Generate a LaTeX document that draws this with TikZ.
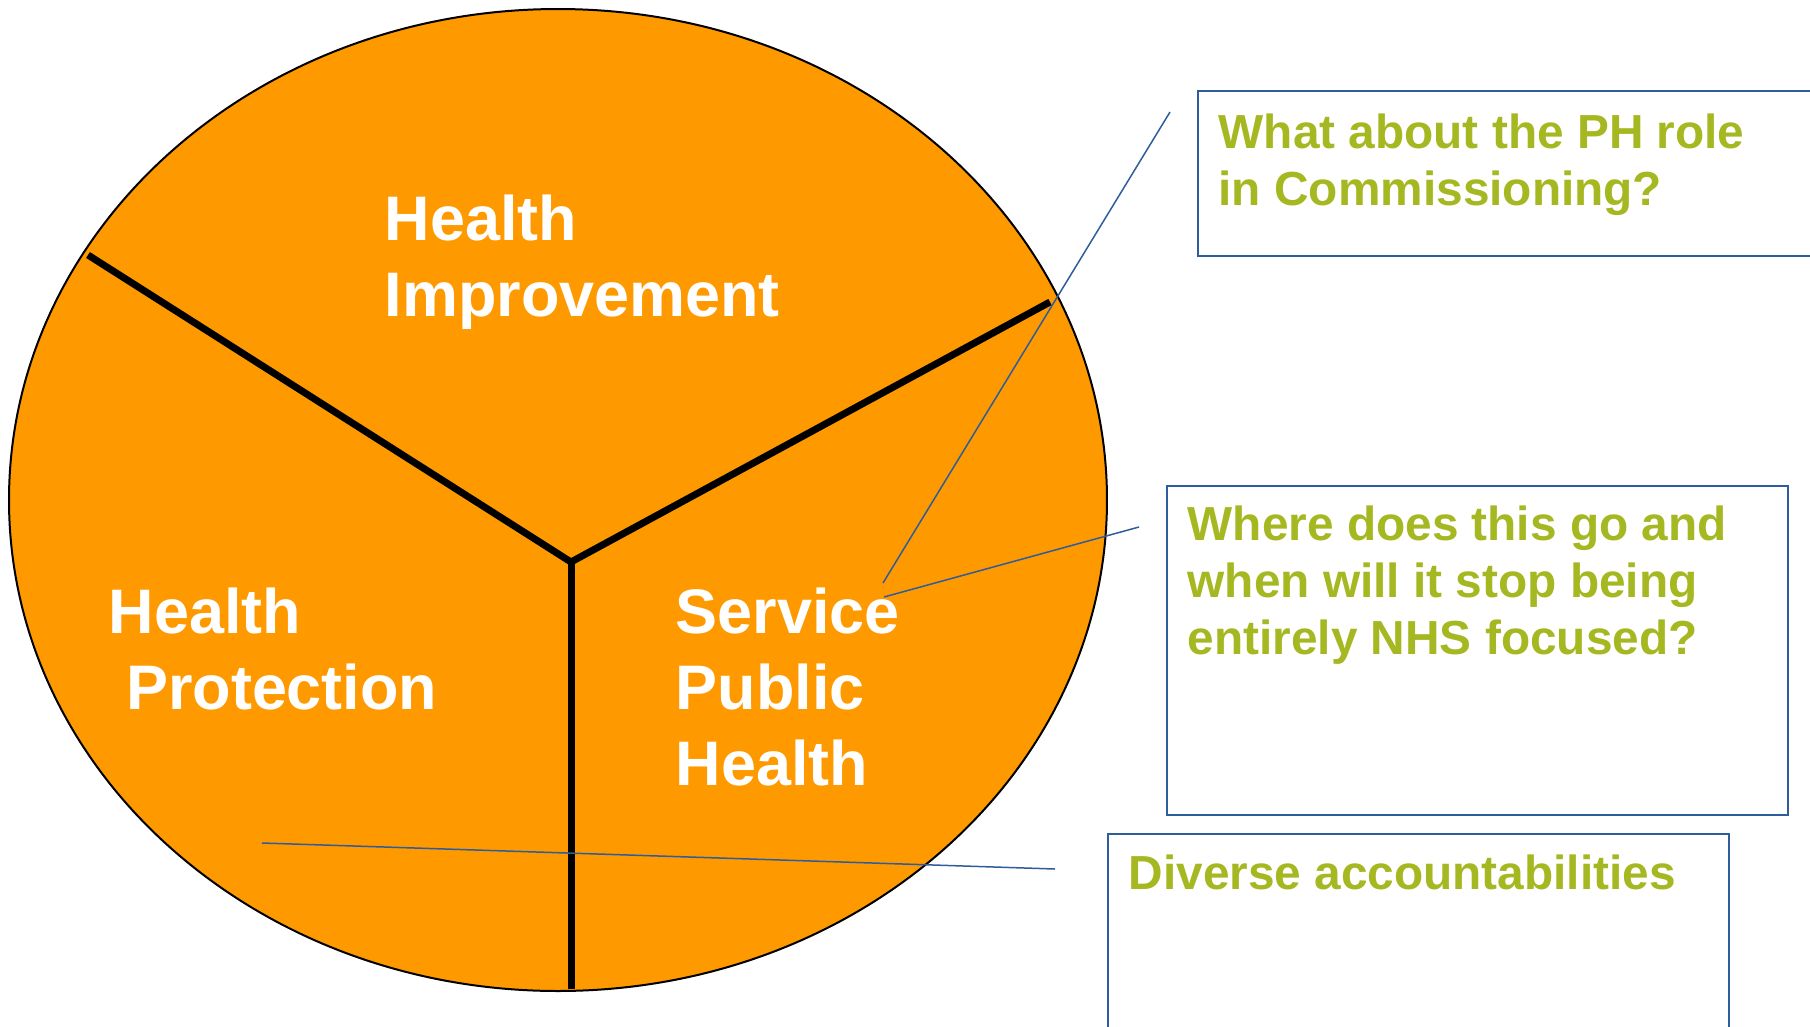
\documentclass[tikz,border=0pt]{standalone}
\usepackage{fontspec}
\setmainfont{Liberation Sans}
\usetikzlibrary{positioning}
\definecolor{pieorange}{RGB}{255,153,0}
\definecolor{noteblue}{RGB}{47,92,154}
\definecolor{notegreen}{RGB}{166,184,33}
\tikzset{
  spoke/.style={line width=0.7mm, black},
  pielabel/.style={text=white, font=\fontsize{17.9}{21.6}\selectfont\bfseries, align=left, inner sep=0pt, anchor=north west},
  notebox/.style={draw=noteblue, line width=0.2mm, anchor=north west, inner sep=0pt},
  notetext/.style={text=notegreen, font=\fontsize{13.6}{16.2}\selectfont\bfseries, align=left, inner sep=0pt},
  pointer/.style={draw=noteblue, line width=0.15mm},
}

\begin{document}
\begin{tikzpicture}[x=0.1mm, y=-0.1mm]
    \useasboundingbox (0,0) rectangle (1810,1026);
    \clip (0,0) rectangle (1810,1026);

    % the pie
    \coordinate (mid) at (558,500);
    \filldraw[fill=pieorange, draw=black, line width=0.2mm] (mid) ellipse [x radius=54.9mm, y radius=49.1mm];

    \coordinate (hub) at (571,562);
    \coordinate (rimL) at (88,255);
    \coordinate (rimR) at (1050,302);
    \coordinate (rimB) at (571,989);
    \foreach \r in {rimL, rimR, rimB} {
        \draw[spoke] (hub) -- (\r);
    }

    % the three parts
    \node[pielabel] (improve) at (384,194) {Health\\Improvement};
    \node[pielabel] (protect) at (108,587) {Health\\\ Protection};
    \node[pielabel] (service) at (675,587) {Service\\Public\\Health};

    % the notes
    \node[notebox, minimum width=63.3mm, minimum height=16.5mm] (commbox) at (1197,90) {};
    \node[notetext, below right=2.35mm and 2.1mm of commbox.north west] (commtext) {What about the PH role\\in Commissioning?};

    \node[notebox, minimum width=62.1mm, minimum height=32.9mm] (nhsbox) at (1166,485) {};
    \node[notetext, below right=2.05mm and 2.1mm of nhsbox.north west] (nhstext) {Where does this go and\\when will it stop being\\entirely NHS focused?};

    \node[notebox, minimum width=62.1mm, minimum height=21mm] (accbox) at (1107,833) {};
    \node[notetext, below right=2.15mm and 2.1mm of accbox.north west] (acctext) {Diverse accountabilities};

    % pointers
    \coordinate (tipA) at (883,583);
    \coordinate (endA) at (1170,112);
    \coordinate (tipB) at (884,597);
    \coordinate (endB) at (1139,527);
    \coordinate (tipC) at (262,843);
    \coordinate (endC) at (1055,869);
    \draw[pointer] (tipA) -- (endA);
    \draw[pointer] (tipB) -- (endB);
    \draw[pointer] (tipC) -- (endC);
\end{tikzpicture}
\end{document}
